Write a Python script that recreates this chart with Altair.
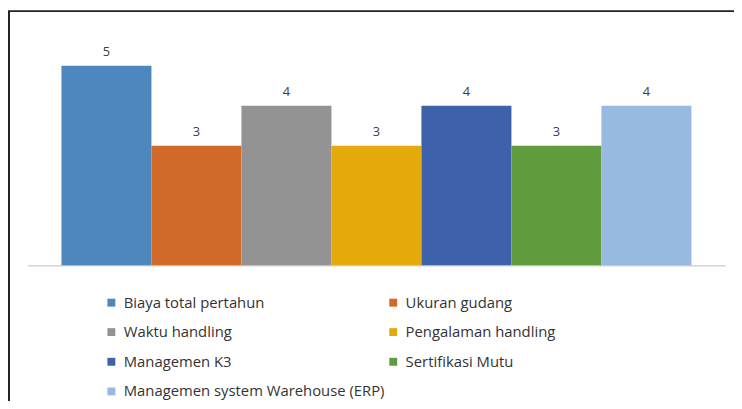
import altair as alt
import pandas as pd

categories = [
    "Biaya total pertahun",
    "Ukuran gudang",
    "Waktu handling",
    "Pengalaman handling",
    "Managemen K3",
    "Sertifikasi Mutu",
    "Managemen system Warehouse (ERP)",
]
values = [5, 3, 4, 3, 4, 3, 4]
colors = ["#4E87BE", "#D26B2A", "#939393", "#E4AA0A", "#3D62AA", "#609C3D", "#98BAE0"]

# legend is laid out column by column: left column first, then right column
legend_order = [0, 2, 4, 6, 1, 3, 5]
legend_domain = [categories[i] for i in legend_order]
legend_range = [colors[i] for i in legend_order]

df = pd.DataFrame({"cat": categories, "val": values})

FONT = "Open Sans"

x = alt.X(
    "cat:N",
    sort=categories,
    scale=alt.Scale(paddingInner=0, paddingOuter=0.374),
    axis=alt.Axis(labels=False, ticks=False, title=None, domain=True,
                  domainColor="#D4D4D4", domainWidth=1.5, grid=False),
)
y = alt.Y("val:Q", scale=alt.Scale(domain=[0, 6]), axis=None)

bars = alt.Chart(df).mark_bar().encode(
    x=x,
    y=y,
    color=alt.Color(
        "cat:N",
        scale=alt.Scale(domain=legend_domain, range=legend_range),
        legend=alt.Legend(
            title=None, orient="none", legendX=77, legendY=272, columns=2,
            symbolType="square", symbolSize=64, symbolStrokeWidth=0,
            labelFont=FONT, labelFontSize=15, labelColor="#333333",
            labelOffset=5, rowPadding=14, columnPadding=1, padding=0,
            labelLimit=400,
        ),
    ),
)

labels = alt.Chart(df).mark_text(
    baseline="alphabetic", dy=-10, font=FONT, fontSize=13, color="#404040"
).encode(x=alt.X("cat:N", sort=categories), y=y, text="val:Q")

border_df = pd.DataFrame({"a": [0]})
left_line = alt.Chart(border_df).mark_rule(color="#222222", strokeWidth=2).encode(
    x=alt.value(-19), y=alt.value(-15), y2=alt.value(390)
)
top_line = alt.Chart(border_df).mark_rule(color="#222222", strokeWidth=2).encode(
    x=alt.value(-20), x2=alt.value(720), y=alt.value(-15)
)

chart = alt.layer(bars, labels, left_line, top_line).properties(
    width=705,
    height=242,
    autosize=alt.AutoSizeParams(type="none"),
    padding={"left": 20, "top": 16, "right": 9, "bottom": 135},
    background="white",
).configure_view(stroke=None)

chart.save("out.html", embed_options={"renderer": "svg", "actions": False})
